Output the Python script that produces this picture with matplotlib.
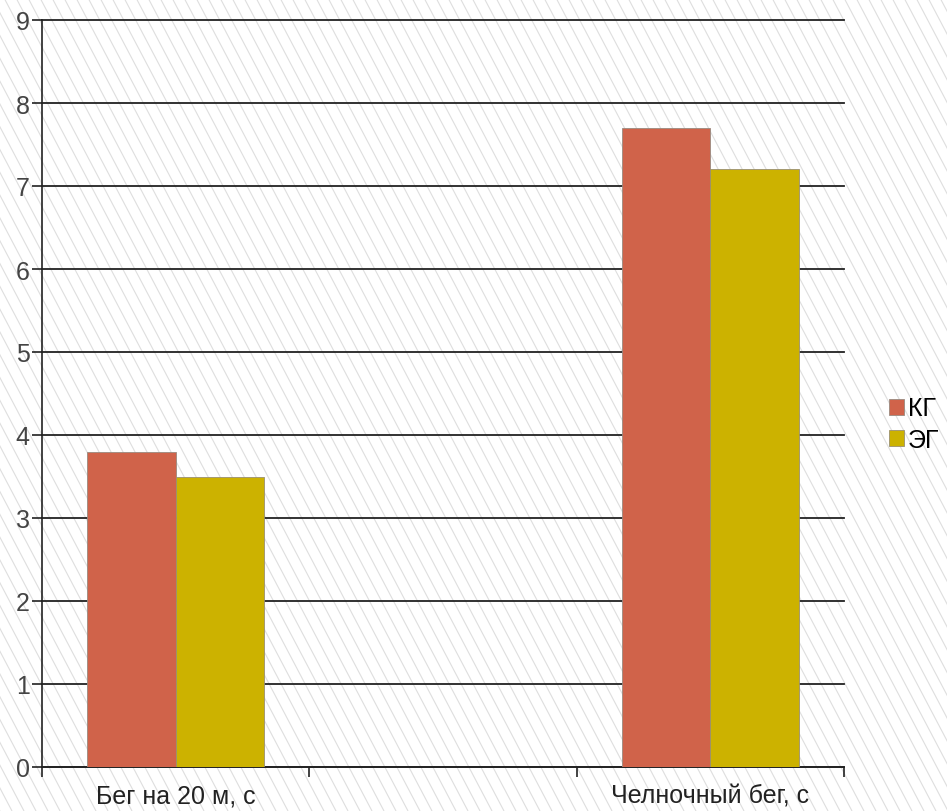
import numpy as np
import matplotlib
matplotlib.use("Agg")
import matplotlib.pyplot as plt
from matplotlib.collections import LineCollection

plt.rcParams['font.family'] = ['Liberation Sans', 'DejaVu Sans']

categories = ["Бег на 20 м, с", "", "Челночный бег, с"]
series_names = ["КГ", "ЭГ"]
kg_values = [3.8, np.nan, 7.7]
eg_values = [3.5, np.nan, 7.2]
y_ticks = [0, 1, 2, 3, 4, 5, 6, 7, 8, 9]

colors = ["#D0634A", "#CCB200"]

W, H = 947, 812
fig = plt.figure(figsize=(W / 100, H / 100), dpi=100)
fig.patch.set_facecolor("white")

# diagonal background hatch
segs = []
slope = 1.9
for x0 in np.arange(-H / slope, W + 20, 12):
    segs.append([(x0, H), (x0 + H / slope, 0)])
lc = LineCollection(segs, colors="#dedede", linewidths=0.8,
                    transform=None, zorder=0)
fig.add_artist(lc)

ax = fig.add_axes([42 / W, 44 / H, (844 - 42) / W, (768 - 21) / H])
ax.patch.set_alpha(0)

x = np.arange(len(categories))
bw = 0.33
ax.bar(x - bw / 2, kg_values, bw, color=colors[0], edgecolor="#9a8a80",
       linewidth=0.6, label=series_names[0], zorder=3)
ax.bar(x + bw / 2, eg_values, bw, color=colors[1], edgecolor="#9a9070",
       linewidth=0.6, label=series_names[1], zorder=3)

ax.set_xlim(-0.5, len(categories) - 0.5)
ax.set_ylim(0, 9)
ax.set_yticks(y_ticks)
ax.yaxis.grid(True, color="#222222", linewidth=1.3, zorder=1)
for gl in ax.get_ygridlines():
    gl.set_clip_on(False)
ax.set_axisbelow(True)

ax.set_xticks(np.arange(-0.5, len(categories)))
ax.set_xticklabels([])
ax.set_xticks(x, minor=True)
ax.set_xticklabels(categories, minor=True, fontsize=18, color="#222222")
ax.tick_params(axis="x", which="major", length=7, width=1.2, color="#222222")
ax.tick_params(axis="x", which="minor", length=0, pad=12)
ax.tick_params(axis="y", length=7, width=1.2, color="#222222",
               labelsize=18, labelcolor="#444444", pad=2)

for side in ["top", "right"]:
    ax.spines[side].set_visible(False)
for side in ["left", "bottom"]:
    ax.spines[side].set_color("#222222")
    ax.spines[side].set_linewidth(1.2)

ax.legend(loc="center left", bbox_to_anchor=(1.056, 0.459), frameon=False,
          fontsize=18, handlelength=0.6, handleheight=0.6, handletextpad=0.15,
          labelspacing=0.3, borderaxespad=0, borderpad=0)

fig.savefig("out.png", dpi=100)
